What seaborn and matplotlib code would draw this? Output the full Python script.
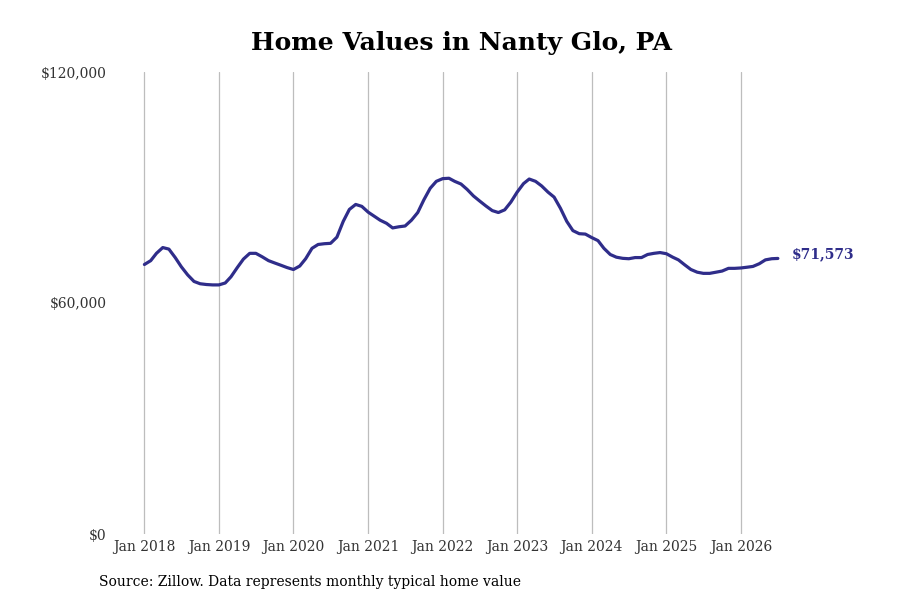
import numpy as np
import pandas as pd
import matplotlib
matplotlib.use("Agg")
import matplotlib.pyplot as plt
import matplotlib.ticker as mticker
import seaborn as sns

# monthly typical home value, Jan 2018 .. Jul 2026
start = "2018-01-01"
values = [
    70000, 71000, 72900, 74400, 74000, 71800, 69400, 67300, 65600, 65000, 64800, 64700,
    64700, 65200, 66800, 69200, 71400, 72900, 72900, 72000, 71000, 70400, 69800, 69200,
    68700, 69600, 71500, 74200, 75200, 75400, 75500, 77100, 81200, 84300, 85600, 85100,
    83600, 82500, 81500, 80700, 79500, 79800, 80000, 81500, 83500, 86800, 89800, 91600,
    92300, 92400, 91600, 90900, 89500, 87800, 86500, 85200, 84000, 83500, 84200, 86200,
    88800, 91000, 92200, 91600, 90400, 88800, 87500, 84600, 81200, 78800, 78000, 77900,
    77000, 76200, 74200, 72600, 71900, 71600, 71500, 71800, 71800, 72600, 72900, 73100,
    72800, 71900, 71200, 69900, 68700, 68000, 67700, 67700, 68000, 68300, 69000, 69000,
    69100, 69300, 69500, 70200, 71200, 71500, 71573,
]
dates = pd.date_range(start, periods=len(values), freq="MS")
tick_years = list(range(2018, 2027))
y_ticks = [0, 60000, 120000]

title = "Home Values in Nanty Glo, PA"
source = "Source: Zillow. Data represents monthly typical home value"
line_color = "#2f2d8a"

df = pd.DataFrame({"date": dates, "value": values})

sns.set_theme(style="white")
plt.rcParams["font.family"] = ["DejaVu Serif"]

fig = plt.figure(figsize=(9, 6), dpi=100)
ax = fig.add_axes([0.128, 0.11, 0.744, 0.77])

sns.lineplot(data=df, x="date", y="value", ax=ax, color=line_color, lw=2.3)

ax.set_xlim(pd.Timestamp("2017-08-11"), pd.Timestamp("2026-08-04"))
ax.set_ylim(0, 120000)
ax.set_xticks([pd.Timestamp(f"{y}-01-01") for y in tick_years])
ax.set_xticklabels([f"Jan {y}" for y in tick_years])
ax.set_yticks(y_ticks)
ax.yaxis.set_major_formatter(mticker.FuncFormatter(lambda v, p: f"${v:,.0f}"))
ax.tick_params(axis="both", labelsize=10, colors="#333333", length=0)
ax.tick_params(axis="x", pad=4)
ax.tick_params(axis="y", pad=6)
ax.grid(axis="x", color="#bdbdbd", lw=0.9)
ax.grid(axis="y", visible=False)
sns.despine(ax=ax, left=True, bottom=True)
ax.set_xlabel("")
ax.set_ylabel("")

last = values[-1]
ax.annotate(f"${last:,.0f}", xy=(dates[-1], last), xytext=(10, 3),
            textcoords="offset points", va="center", ha="left",
            fontsize=10, fontweight="bold", color=line_color,
            annotation_clip=False)

fig.text(0.513, 0.928, title, ha="center", va="center",
         fontsize=18, fontweight="bold", color="black")
fig.text(0.11, 0.03, source, ha="left", va="center",
         fontsize=10, color="black")

fig.savefig("out.png", dpi=100)
